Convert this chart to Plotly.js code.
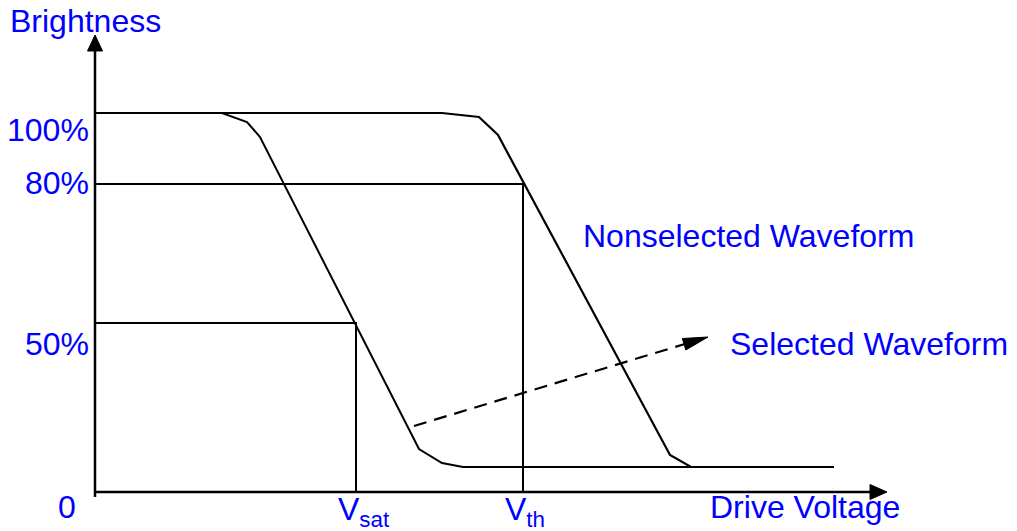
<!DOCTYPE html>
<html>
<head>
<meta charset="utf-8">
<script src="https://cdn.plot.ly/plotly-3.0.1.min.js"></script>
<style>
  body { margin: 0; background: #fff; }
  #chart { width: 1017px; height: 531px; }
</style>
</head>
<body>
<div id="chart"></div>
<script>
// drawing units: voltage to the right, brightness upwards (origin at the axes corner)
const nonselVoltage = [0, 347, 384, 403, 575, 596, 648];
const nonselBright = [379, 379, 375, 357, 37, 25, 25];

const selVoltage = [0, 127, 152, 165, 324, 347, 368, 739];
const selBright = [379, 379, 370, 355, 43, 29, 25, 25];

// guide levels: 80% at Vth, 50% at Vsat
const level80 = 308;
const level50 = 169;
const vth = 428;
const vsat = 261;

// shift arrow (selected -> nonselected)
const shiftFrom = [319, 66];
const shiftTo = [613, 155];

const axisTop = 457;
const axisRight = 792;

const blue = "#0000ff";
const font = { family: "Liberation Sans, Arial, sans-serif", size: 32, color: blue };

// arrow head as a filled triangle, tip at (tx,ty), pointing along (dx,dy)
function arrowHead(tx, ty, dx, dy, len, half) {
  const n = Math.hypot(dx, dy);
  const ux = dx / n, uy = dy / n;
  const bx = tx - ux * len, by = ty - uy * len;
  return {
    x: [tx, bx - uy * half, bx + uy * half, tx],
    y: [ty, by + ux * half, by - ux * half, ty],
    mode: "lines",
    fill: "toself",
    fillcolor: "#000",
    line: { color: "#000", width: 1 },
    hoverinfo: "skip",
  };
}

const line = (x, y, width, dash) => ({
  x: x,
  y: y,
  mode: "lines",
  line: { color: "#000", width: width, dash: dash || "solid" },
  hoverinfo: "skip",
});

const dx = shiftTo[0] - shiftFrom[0];
const dy = shiftTo[1] - shiftFrom[1];
const headLen = 25;
const dn = Math.hypot(dx, dy);

const traces = [
  // axes
  line([0, 0], [-5, axisTop - 14], 2.5),
  line([0, axisRight - 16], [0, 0], 2.5),
  arrowHead(0, axisTop, 0, 1, 16, 7.5),
  arrowHead(axisRight, 0, 1, 0, 17, 7.5),
  // guides
  line([0, vth, vth], [level80, level80, 0], 2),
  line([0, vsat, vsat], [level50, level50, 0], 2),
  // curves
  line(selVoltage, selBright, 2),
  line(nonselVoltage, nonselBright, 2.2),
  // dashed shift arrow
  line([shiftFrom[0], shiftTo[0] - dx / dn * headLen],
       [shiftFrom[1], shiftTo[1] - dy / dn * headLen], 2.2, "13px,8px"),
  arrowHead(shiftTo[0], shiftTo[1], dx, dy, headLen, 6),
];

const label = (text, x, y, xanchor) => ({
  text: text, x: x, y: y, xref: "x", yref: "y",
  xanchor: xanchor, yanchor: "middle", showarrow: false, font: font,
});

const annotations = [
  label("Brightness", -87, 471, "left"),
  label("100%", -4, 362, "right"),
  label("80%", -4, 309, "right"),
  label("50%", -4, 148, "right"),
  label("0", -28, -15, "center"),
  label("V<sub>sat</sub>", 241, -19, "left"),
  label("V<sub>th</sub>", 408, -19, "left"),
  label("Drive Voltage", 613, -15, "left"),
  label("Nonselected Waveform", 486, 256, "left"),
  label("Selected Waveform", 633, 148, "left"),
];

const hidden = { visible: false, showgrid: false, zeroline: false, fixedrange: true };

const layout = {
  width: 1017,
  height: 531,
  margin: { l: 0, r: 0, t: 0, b: 0 },
  paper_bgcolor: "#fff",
  plot_bgcolor: "#fff",
  showlegend: false,
  hovermode: false,
  xaxis: Object.assign({ range: [-95, 922] }, hidden),
  yaxis: Object.assign({ range: [-39, 492] }, hidden),
  annotations: annotations,
};

Plotly.newPlot("chart", traces, layout, { displayModeBar: false, staticPlot: true });
</script>
</body>
</html>
